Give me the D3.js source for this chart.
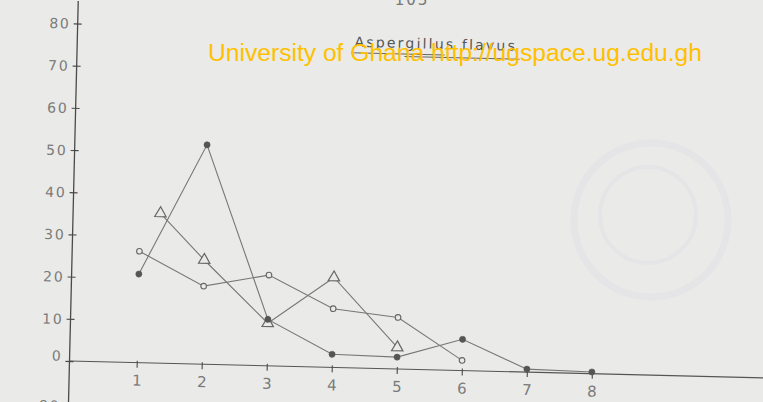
<!DOCTYPE html>
<html>
<head>
<meta charset="utf-8">
<script src="https://cdn.jsdelivr.net/npm/d3@7/dist/d3.min.js"></script>
<style>
  html, body { margin: 0; padding: 0; background: #eaeae8; }
  svg { display: block; }
</style>
</head>
<body>
<svg id="chart" width="763" height="402"></svg>
<script>
// Colony counts per day for Aspergillus flavus, three treatments
const xTicks = [1, 2, 3, 4, 5, 6, 7, 8];
const yTicks = [0, 10, 20, 30, 40, 50, 60, 70, 80];

const filledX = [1, 2, 3, 4, 5, 6, 7, 8];
const filledY = [21, 52, 11, 3.1, 2.8, 7.4, 0.7, 0.4];

const openX = [1, 2, 3, 4, 5, 6];
const openY = [26.4, 18.5, 21.5, 13.9, 12.2, 2.4];

const triX = [1.31, 2, 3, 4, 5];
const triY = [35.5, 24.7, 10.1, 21.3, 5.1];

const title = "Aspergillus  flavus";

const svg = d3.select("#chart");
const W = 763, H = 402;
const ox = 69.5, oy = 361;      // origin of the plotted axes
const tilt = 1.39;              // the sheet sits slightly skewed
const paper = "#eaeae8";

svg.append("rect").attr("width", W).attr("height", H).attr("fill", paper);

// faint circular stamp on the page
const stamp = svg.append("g").attr("fill", "none").attr("stroke", "#d8d8e6");
stamp.append("circle").attr("cx", 651).attr("cy", 220).attr("r", 77).attr("stroke-width", 7).attr("opacity", 0.28);
stamp.append("circle").attr("cx", 648).attr("cy", 215).attr("r", 48).attr("stroke-width", 4).attr("opacity", 0.22);

// page number, cut off at the top edge
svg.append("text").attr("x", 412).attr("y", 5).attr("text-anchor", "middle")
  .attr("font-family", "DejaVu Sans").attr("font-size", 15).attr("fill", "#777")
  .attr("letter-spacing", 2).text("103");

const g = svg.append("g").attr("transform", `rotate(${tilt},${ox},${oy})`);

const x = d3.scaleLinear().domain([0, 8]).range([ox + 2.2, ox + 2.2 + 520.3]);
const y = d3.scaleLinear().domain([0, 80]).range([oy, oy - 337.6]);

const axisColor = "#4a4a4a";
const labelColor = "#7b7b7b";
const lineColor = "#777";

// axes lines
g.append("line").attr("x1", ox).attr("x2", ox).attr("y1", oy + 45).attr("y2", oy - 360)
  .attr("stroke", axisColor).attr("stroke-width", 1.3);
g.append("line").attr("x1", ox).attr("x2", ox + 710).attr("y1", oy).attr("y2", oy)
  .attr("stroke", "#555").attr("stroke-width", 1.1);

// y axis via d3
const yAxis = d3.axisLeft(y).tickValues(yTicks).tickSize(0).tickPadding(6);
const ya = g.append("g").attr("transform", `translate(${ox},0)`).call(yAxis);
ya.select(".domain").remove();
ya.selectAll("text").attr("font-family", "DejaVu Sans").attr("font-size", 14)
  .attr("fill", labelColor).attr("letter-spacing", 1.8).attr("dx", -1).attr("dy", "0.34em");
ya.selectAll(".tick").filter(d => d === 0).select("text").attr("dy", "-0.05em");
ya.selectAll(".tick").append("line").attr("x1", -4).attr("x2", 4)
  .attr("stroke", axisColor).attr("stroke-width", 1.1);

// label of the panel below, just peeking in
g.append("text").attr("x", ox - 8).attr("y", oy + 50).attr("text-anchor", "end")
  .attr("font-family", "DejaVu Sans").attr("font-size", 14).attr("fill", labelColor)
  .attr("letter-spacing", 1.8).text("80");

// x axis via d3
const xAxis = d3.axisBottom(x).tickValues(xTicks).tickSize(0).tickPadding(0);
const xa = g.append("g").attr("transform", `translate(0,${oy})`).call(xAxis);
xa.select(".domain").remove();
xa.selectAll("text").attr("font-family", "DejaVu Sans").attr("font-size", 15)
  .attr("fill", labelColor).attr("dy", "1.4em").attr("y", 2);
xa.selectAll(".tick").append("line").attr("y1", -2).attr("y2", 5)
  .attr("stroke", axisColor).attr("stroke-width", 1.1);

// series lines
const line = d3.line().x(d => x(d[0])).y(d => y(d[1]));
const filled = filledX.map((v, i) => [v, filledY[i]]);
const open = openX.map((v, i) => [v, openY[i]]);
const tri = triX.map((v, i) => [v, triY[i]]);

[filled, open, tri].forEach(s => {
  g.append("path").datum(s).attr("d", line).attr("fill", "none")
    .attr("stroke", lineColor).attr("stroke-width", 1.1);
});

// markers
g.selectAll(".m-tri").data(tri).join("path").attr("class", "m-tri")
  .attr("d", d3.symbol(d3.symbolTriangle, 56))
  .attr("transform", d => `translate(${x(d[0])},${y(d[1])})`)
  .attr("fill", paper).attr("stroke", "#666").attr("stroke-width", 1.2);

g.selectAll(".m-open").data(open).join("circle").attr("class", "m-open")
  .attr("cx", d => x(d[0])).attr("cy", d => y(d[1])).attr("r", 2.8)
  .attr("fill", paper).attr("stroke", "#666").attr("stroke-width", 1.1);

g.selectAll(".m-fill").data(filled).join("circle").attr("class", "m-fill")
  .attr("cx", d => x(d[0])).attr("cy", d => y(d[1])).attr("r", 3.1)
  .attr("fill", "#555").attr("stroke", "#555").attr("stroke-width", 0.5);

// title with its underlines
g.append("text").attr("x", 428).attr("y", 40).attr("text-anchor", "middle")
  .attr("font-family", "DejaVu Sans").attr("font-size", 14).attr("fill", "#555")
  .attr("letter-spacing", 2.2).text(title);
g.append("line").attr("x1", 344).attr("x2", 437).attr("y1", 46).attr("y2", 46)
  .attr("stroke", "#666").attr("stroke-width", 1);
g.append("line").attr("x1", 397).attr("x2", 512).attr("y1", 48.5).attr("y2", 48.5)
  .attr("stroke", "#666").attr("stroke-width", 1);

// repository watermark
svg.append("text").attr("x", 208).attr("y", 61)
  .attr("font-family", "Liberation Sans, Arial, sans-serif").attr("font-size", 23.5)
  .attr("fill", "#ffc000").attr("textLength", 494).attr("lengthAdjust", "spacingAndGlyphs")
  .text("University of Ghana http://ugspace.ug.edu.gh");
</script>
</body>
</html>
